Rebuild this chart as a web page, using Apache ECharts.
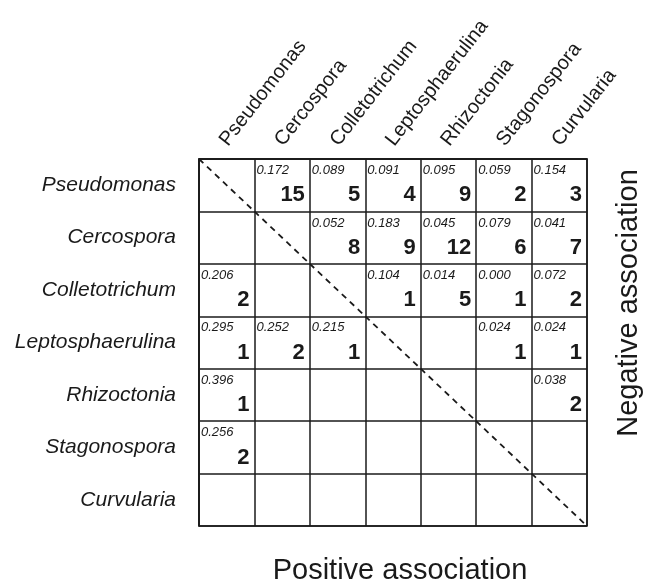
<!DOCTYPE html>
<html>
<head>
<meta charset="utf-8">
<script src="https://cdn.jsdelivr.net/npm/echarts@6/dist/echarts.min.js"></script>
<style>
  html, body { margin: 0; padding: 0; background: #fff; }
  #chart { width: 653px; height: 584px; }
</style>
</head>
<body>
<div id="chart"></div>
<script>
  // genus names, same order for rows (top to bottom) and columns (left to right)
  var genera = ['Pseudomonas', 'Cercospora', 'Colletotrichum', 'Leptosphaerulina',
    'Rhizoctonia', 'Stagonospora', 'Curvularia'];

  // small italic number in each cell (row = y genus, col = x genus)
  var pValues = [
    [null, 0.172, 0.089, 0.091, 0.095, 0.059, 0.154],
    [null, null, 0.052, 0.183, 0.045, 0.079, 0.041],
    [0.206, null, null, 0.104, 0.014, 0.000, 0.072],
    [0.295, 0.252, 0.215, null, null, 0.024, 0.024],
    [0.396, null, null, null, null, null, 0.038],
    [0.256, null, null, null, null, null, null],
    [null, null, null, null, null, null, null]
  ];

  // big bold count in each cell
  var counts = [
    [null, 15, 5, 4, 9, 2, 3],
    [null, null, 8, 9, 12, 6, 7],
    [2, null, null, 1, 5, 1, 2],
    [1, 2, 1, null, null, 1, 1],
    [1, null, null, null, null, null, 2],
    [2, null, null, null, null, null, null],
    [null, null, null, null, null, null, null]
  ];

  var font = 'Liberation Sans, Arial, Helvetica, sans-serif';
  var ink = '#1a1a1a';

  var cells = [];
  for (var i = 0; i < genera.length; i++) {
    for (var j = 0; j < genera.length; j++) {
      if (counts[i][j] != null) {
        cells.push([j, i, pValues[i][j], counts[i][j]]);
      }
    }
  }
  var diag = genera.map(function (g, i) { return [i, i]; });

  var myChart = echarts.init(document.getElementById('chart'));
  var option = {
    backgroundColor: '#fff',
    animation: false,
    grid: {
      left: 199, right: 66, top: 159, bottom: 58,
      show: true, borderColor: ink, borderWidth: 1.5,
      outerBoundsMode: 'none'
    },
    xAxis: {
      type: 'category',
      position: 'top',
      data: genera,
      axisLine: { show: true, lineStyle: { color: ink, width: 1.5 } },
      axisTick: { show: false },
      splitLine: { show: true, lineStyle: { color: ink, width: 1.5 } },
      axisLabel: {
        interval: 0,
        rotate: -52,
        margin: 13,
        verticalAlign: 'bottom',
        lineHeight: 8,
        color: ink,
        fontFamily: font,
        fontSize: 20
      }
    },
    yAxis: {
      type: 'category',
      inverse: true,
      data: genera,
      axisLine: { show: true, lineStyle: { color: ink, width: 1.5 } },
      axisTick: { show: false },
      splitLine: { show: true, lineStyle: { color: ink, width: 1.5 } },
      axisLabel: {
        interval: 0,
        margin: 23,
        color: ink,
        fontFamily: font,
        fontStyle: 'italic',
        fontSize: 21
      }
    },
    graphic: [
      {
        type: 'text', x: 400, y: 571,
        style: { text: 'Positive association', fill: ink, font: '29px ' + font,
          align: 'center', verticalAlign: 'middle' }
      },
      {
        type: 'text', x: 629, y: 303, rotation: Math.PI / 2,
        style: { text: 'Negative association', fill: ink, font: '29px ' + font,
          align: 'center', verticalAlign: 'middle' }
      }
    ],
    series: [
      {
        type: 'custom',
        data: diag,
        renderItem: function (params, api) {
          var c = api.coord([api.value(0), api.value(1)]);
          var s = api.size([1, 1]);
          return {
            type: 'line',
            shape: { x1: c[0] - s[0] / 2, y1: c[1] - s[1] / 2, x2: c[0] + s[0] / 2, y2: c[1] + s[1] / 2 },
            style: { stroke: ink, lineWidth: 1.8, lineDash: [6, 5] }
          };
        }
      },
      {
        type: 'custom',
        data: cells,
        renderItem: function (params, api) {
          var c = api.coord([api.value(0), api.value(1)]);
          var s = api.size([1, 1]);
          var left = c[0] - s[0] / 2, top = c[1] - s[1] / 2;
          var right = c[0] + s[0] / 2, bottom = c[1] + s[1] / 2;
          return {
            type: 'group',
            children: [
              {
                type: 'text', x: left + 2, y: top + 5,
                style: { text: api.value(2).toFixed(3), fill: ink,
                  font: 'italic 13px ' + font, align: 'left', verticalAlign: 'top' }
              },
              {
                type: 'text', x: right - 5, y: bottom - 5,
                style: { text: String(api.value(3)), fill: ink,
                  font: 'bold 22px ' + font, align: 'right', verticalAlign: 'bottom' }
              }
            ]
          };
        }
      }
    ]
  };
  myChart.setOption(option);
</script>
</body>
</html>
